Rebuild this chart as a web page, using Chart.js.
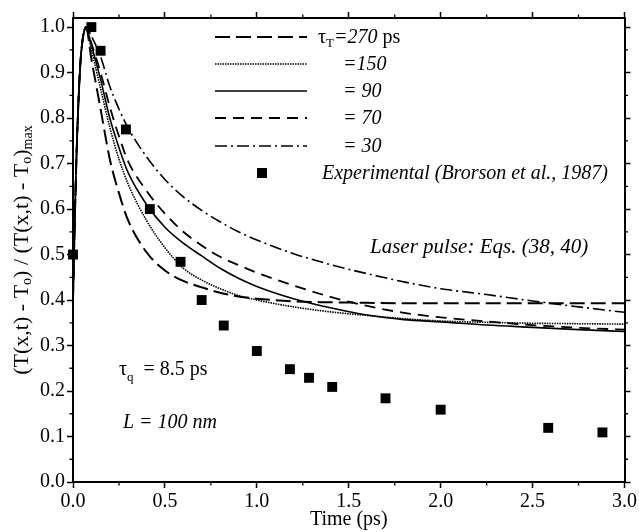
<!DOCTYPE html>
<html>
<head>
<meta charset="utf-8">
<script src="https://cdn.jsdelivr.net/npm/chart.js@4"></script>
<style>
html, body { margin: 0; padding: 0; background: #fff; }
#wrap { width: 639px; height: 532px; }
</style>
</head>
<body>
<div id="wrap"><canvas id="chart"></canvas></div>
<script>
const times = [0, 0.01, 0.02, 0.03, 0.04, 0.05, 0.06, 0.07, 0.1, 0.15, 0.2, 0.25, 0.3, 0.4, 0.5, 0.6, 0.7, 0.8, 0.9, 1.0, 1.2, 1.4, 1.6, 1.8, 2.0, 2.25, 2.5, 2.75, 3.0];
const rise = [0.4, 0.58, 0.73, 0.84, 0.92, 0.965, 0.99, 1.0];

const tau270 = rise.concat([0.93, 0.82, 0.71, 0.635, 0.575, 0.505, 0.465, 0.442, 0.428, 0.416, 0.408, 0.403, 0.397, 0.395, 0.394, 0.393, 0.393, 0.393, 0.393, 0.393, 0.393]);
const tau150 = rise.concat([0.95, 0.865, 0.78, 0.71, 0.655, 0.575, 0.515, 0.47, 0.444, 0.425, 0.41, 0.4, 0.385, 0.374, 0.366, 0.359, 0.354, 0.351, 0.349, 0.348, 0.347]);
const tau90 = rise.concat([0.96, 0.885, 0.8, 0.735, 0.68, 0.61, 0.56, 0.525, 0.497, 0.47, 0.448, 0.43, 0.403, 0.383, 0.367, 0.357, 0.352, 0.345, 0.34, 0.335, 0.331]);
const tau70 = rise.concat([0.965, 0.9, 0.825, 0.76, 0.705, 0.64, 0.59, 0.55, 0.52, 0.495, 0.477, 0.46, 0.432, 0.407, 0.387, 0.372, 0.362, 0.353, 0.345, 0.339, 0.335]);
const tau30 = rise.concat([0.98, 0.935, 0.87, 0.82, 0.778, 0.715, 0.665, 0.627, 0.597, 0.572, 0.55, 0.532, 0.502, 0.478, 0.458, 0.44, 0.425, 0.412, 0.398, 0.385, 0.373]);

const expTimes = [0.0, 0.1, 0.15, 0.288, 0.418, 0.585, 0.7, 0.82, 1.0, 1.18, 1.284, 1.41, 1.7, 2.0, 2.585, 2.88];
const expValues = [0.5, 1.0, 0.948, 0.775, 0.6, 0.484, 0.4, 0.344, 0.288, 0.248, 0.229, 0.209, 0.184, 0.159, 0.119, 0.109];

const seriesLabels = ['=270', '=150', '= 90', '= 70', '= 30'];
const seriesValues = [tau270, tau150, tau90, tau70, tau30];
const seriesDash = [[15, 6], [1.5, 1], [], [11, 7], [12, 4, 2, 4]];
const seriesWidth = [2, 1.6, 1.6, 1.8, 1.6];

const SERIF = '"Liberation Serif", "Times New Roman", serif';

function toPoints(xs, ys) {
    return xs.map((x, i) => ({ x: x, y: ys[i] }));
}

function partFont(p) {
    return (p.italic ? 'italic ' : '') + p.size + 'px ' + SERIF;
}

function drawParts(ctx, x, y, parts, align) {
    let total = 0;
    parts.forEach(p => {
        ctx.font = partFont(p);
        p.w = ctx.measureText(p.text).width;
        total += p.w;
    });
    let cx = align === 'center' ? x - total / 2 : x;
    parts.forEach(p => {
        ctx.font = partFont(p);
        ctx.fillText(p.text, cx, y + (p.dy || 0));
        cx += p.w;
    });
}

const decorPlugin = {
    id: 'decor',
    afterDraw(chart) {
        const ctx = chart.ctx;
        const area = chart.chartArea;
        const xs = chart.scales.x;
        const ys = chart.scales.y;
        ctx.save();
        ctx.strokeStyle = '#000';
        ctx.fillStyle = '#000';

        // minor ticks
        ctx.lineWidth = 1.3;
        ctx.beginPath();
        for (let v = 0.25; v < 3; v += 0.5) {
            const px = xs.getPixelForValue(v);
            ctx.moveTo(px, area.bottom); ctx.lineTo(px, area.bottom + 3.5);
            ctx.moveTo(px, area.top); ctx.lineTo(px, area.top - 3.5);
        }
        for (let v = 0.05; v < 1.0; v += 0.1) {
            const py = ys.getPixelForValue(v);
            ctx.moveTo(area.left, py); ctx.lineTo(area.left - 3.5, py);
            ctx.moveTo(area.right, py); ctx.lineTo(area.right + 3.5, py);
        }
        ctx.stroke();

        // legend
        const rowY = [37, 64, 91, 118, 146];
        for (let i = 0; i < seriesLabels.length; i++) {
            ctx.lineWidth = seriesWidth[i];
            ctx.setLineDash(seriesDash[i]);
            ctx.beginPath();
            ctx.moveTo(215, rowY[i]);
            ctx.lineTo(307, rowY[i]);
            ctx.stroke();
        }
        ctx.setLineDash([]);
        ctx.textBaseline = 'alphabetic';
        drawParts(ctx, 318, rowY[0] + 6, [
            { text: 'τ', size: 20 },
            { text: 'T', size: 13, dy: 4 },
            { text: seriesLabels[0], size: 20, italic: true },
            { text: ' ps', size: 20 }
        ]);
        for (let i = 1; i < seriesLabels.length; i++) {
            drawParts(ctx, 343, rowY[i] + 6, [{ text: seriesLabels[i], size: 20, italic: true }]);
        }
        ctx.fillRect(257, 168, 10, 10);
        drawParts(ctx, 322, 173 + 6, [{ text: 'Experimental (Brorson et al., 1987)', size: 20, italic: true }]);

        // annotations
        drawParts(ctx, 370, 253, [{ text: 'Laser pulse: Eqs. (38, 40)', size: 21, italic: true }]);
        drawParts(ctx, 119, 375, [
            { text: 'τ', size: 20 },
            { text: 'q', size: 13, dy: 6 },
            { text: '  = 8.5 ps', size: 20 }
        ]);
        drawParts(ctx, 123, 428, [{ text: 'L = 100 nm', size: 20, italic: true }]);

        // y axis title
        ctx.translate(22, (area.top + area.bottom) / 2);
        ctx.rotate(-Math.PI / 2);
        ctx.textBaseline = 'middle';
        drawParts(ctx, 0, 0, [
            { text: '(T(x,t) - T', size: 22 },
            { text: 'o', size: 14, dy: 5 },
            { text: ') / (T(x,t) - T', size: 22 },
            { text: 'o', size: 14, dy: 5 },
            { text: ')', size: 22 },
            { text: 'max', size: 14, dy: 6 }
        ], 'center');
        ctx.restore();
    }
};

const lineDatasets = seriesValues.map((vals, i) => ({
    type: 'line',
    label: seriesLabels[i],
    data: toPoints(times, vals),
    borderColor: '#000',
    borderWidth: seriesWidth[i],
    borderDash: seriesDash[i],
    pointRadius: 0,
    fill: false,
    cubicInterpolationMode: 'monotone'
}));

const tickFont = { family: SERIF, size: 20 };

function frameAxis(position, size, labels) {
    const horizontal = position === 'bottom' || position === 'top';
    return {
        type: 'linear',
        position: position,
        min: 0,
        max: horizontal ? 3 : 1.02,
        ticks: {
            display: labels,
            stepSize: horizontal ? 0.5 : 0.1,
            includeBounds: false,
            maxRotation: 0,
            autoSkip: false,
            color: '#000',
            font: tickFont,
            padding: 2,
            callback: v => v.toFixed(1)
        },
        grid: {
            display: true,
            drawOnChartArea: false,
            drawTicks: true,
            tickLength: 6,
            tickWidth: 1.5,
            tickColor: '#000'
        },
        border: { display: true, color: '#000', width: 2 },
        afterFit: s => {
            if (horizontal) s.height = size; else s.width = size;
        }
    };
}

const xAxis = frameAxis('bottom', 50, true);
xAxis.title = { display: true, text: 'Time (ps)', color: '#000', font: { family: SERIF, size: 20 }, padding: { top: 0, bottom: 0 } };

new Chart(document.getElementById('chart'), {
    type: 'scatter',
    data: {
        datasets: [{
            type: 'scatter',
            label: 'Experimental',
            data: toPoints(expTimes, expValues),
            pointStyle: 'rect',
            pointRadius: 7,
            backgroundColor: '#000',
            borderWidth: 0,
            clip: false
        }].concat(lineDatasets)
    },
    options: {
        responsive: true,
        maintainAspectRatio: false,
        animation: false,
        layout: { padding: 0 },
        plugins: {
            legend: { display: false },
            tooltip: { enabled: false }
        },
        scales: {
            x: xAxis,
            x2: frameAxis('top', 18, false),
            y: frameAxis('left', 73, true),
            y2: frameAxis('right', 14, false)
        }
    },
    plugins: [decorPlugin]
});
</script>
</body>
</html>
